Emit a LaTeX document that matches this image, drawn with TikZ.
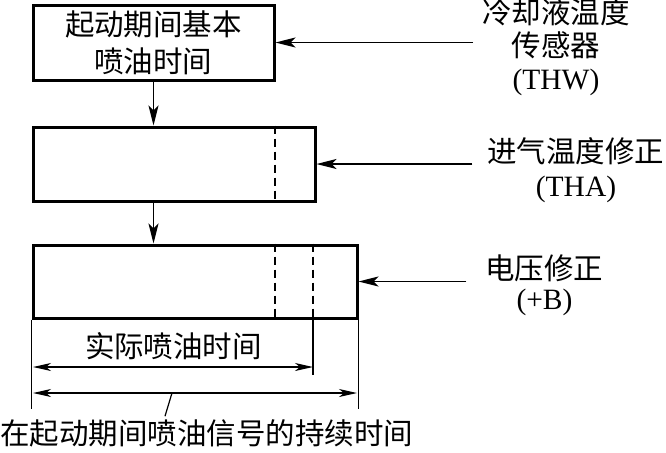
\documentclass[tikz,border=0pt]{standalone}
\usepackage{fontspec}
\setmainfont{Liberation Serif}
\newfontfamily\cjk{Noto Sans CJK SC}
\usetikzlibrary{arrows.meta, calc}

\begin{document}
\begin{tikzpicture}[
    x=0.5pt, y=-0.5pt, % one unit = one pixel of the drawing
    font=\fontsize{14.75}{17}\selectfont,
    arrow/.style={
        -{Stealth[length=10pt,width=5pt,inset=2.5pt]},
        line width=0.9pt
    },
    dimarrow/.style={
        {Stealth[length=9pt,width=4pt,inset=2.5pt]}-{Stealth[length=9pt,width=4pt,inset=2.5pt]},
        line width=0.7pt
    },
    stage/.style={
        rectangle,
        draw,
        line width=1.5pt,
        inner sep=0pt,
        align=center
    },
    dashline/.style={
        dash pattern=on 4pt off 2.5pt,
        line width=0.7pt
    },
    extline/.style={
        line width=0.6pt
    },
    sensor/.style={ % text on the right
        align=center
    }
]
    \useasboundingbox (0,0) rectangle (666,452);

    % Stages
    \node[stage, minimum width=120.5pt, minimum height=37.5pt,
          font=\fontsize{14.75}{18.5}\selectfont] (basic) at (153.5,42.5)
          {\cjk 起动期间基本\\\cjk 喷油时间};
    \node[stage, minimum width=141pt, minimum height=37pt] (tha_box) at (174,164) {};
    \node[stage, minimum width=162pt, minimum height=36.5pt] (bat_box) at (195,281.5) {};

    \draw[arrow] (basic.south) -- (basic.south |- tha_box.north);
    \draw[arrow] (basic.south |- tha_box.south) -- (basic.south |- bat_box.north);

    % Dashed corrections
    \coordinate (d1) at (275,0);
    \coordinate (d2) at (313,0);
    \draw[dashline] (d1 |- tha_box.north) -- (d1 |- tha_box.south);
    \draw[dashline] (d1 |- bat_box.north) -- (d1 |- bat_box.south);
    \draw[dashline] (d2 |- bat_box.north) -- (d2 |- bat_box.south);

    % Sensors
    \node[sensor, font=\fontsize{14.75}{16.5}\selectfont] (thw) at (556,47)
          {\cjk 冷却液温度\\\cjk 传感器\\(THW)};
    \node[sensor] (tha) at (576,170) {\cjk 进气温度修正\\(THA)};
    \node[sensor, font=\fontsize{14.75}{15}\selectfont] (bat) at (544.5,285) {\cjk 电压修正\\(+B)};

    \draw[arrow] ([xshift=-1pt]thw.west |- basic.east) -- (basic.east);
    \draw[arrow] ([xshift=-4pt]tha.west |- tha_box.east) -- (tha_box.east);
    \draw[arrow] ([xshift=-6pt]bat.west |- bat_box.east) -- (bat_box.east);

    % Dimensions
    \draw[extline] (bat_box.south west) -- ++(0,89);
    \draw[extline] (bat_box.south east) -- ++(0,89);
    \draw[extline] (d2 |- bat_box.south) -- ++(0,55);

    \coordinate (a1) at (33,367);
    \coordinate (a2) at (313,367);
    \coordinate (t1) at (33,393);
    \coordinate (t2) at (357,393);
    \coordinate (lead) at (172,393);

    \node (actual) at (173.5,346) {\cjk 实际喷油时间};
    \draw[dimarrow] (a1) -- (a2);
    \draw[dimarrow] (t1) -- (t2);

    \node (total) at (207,433) {\cjk 在起动期间喷油信号的持续时间};
    \draw[extline] (lead) -- ([xshift=-21pt,yshift=-2pt]total.north);

\end{tikzpicture}
\end{document}
